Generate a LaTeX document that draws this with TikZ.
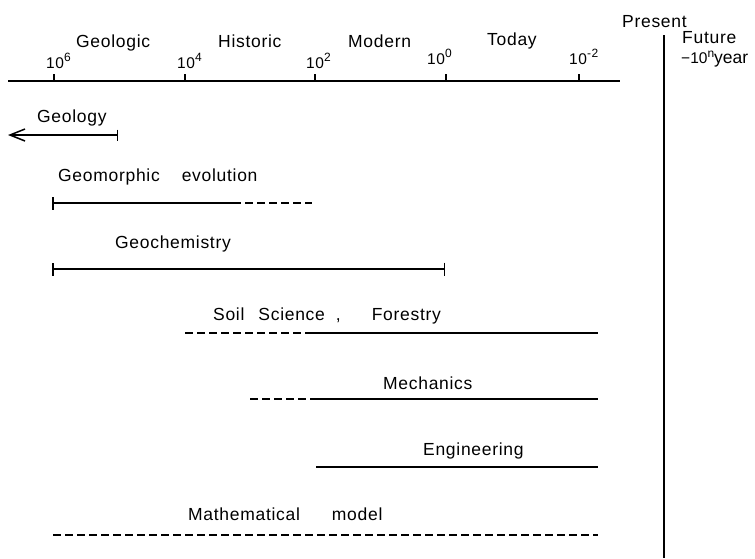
\documentclass[tikz,border=0pt]{standalone}
\usepackage{fontspec}
\setmainfont{Liberation Sans}[LetterSpace=4]
\usetikzlibrary{arrows.meta}
\newcommand{\myexp}[1]{\raisebox{7pt}{\fontsize{12}{12}\selectfont #1}}
\begin{document}
\begin{tikzpicture}[x=1pt,y=-1pt,
  lbl/.style={anchor=base west,inner sep=0pt,font=\fontsize{17.5}{20}\selectfont},
  tlbl/.style={anchor=base west,inner sep=0pt,font=\fontsize{15.5}{17}\selectfont},
  bar/.style={line width=1.5pt},
  dsh/.style={line width=1.5pt,dash pattern=on 8pt off 4pt},
  tick/.style={line width=1.5pt}
]
\useasboundingbox (0,0) rectangle (755,558);

% time axis
\coordinate (axL) at (8,81);
\coordinate (axR) at (620,81);
\draw[bar] (axL) -- (axR);
\foreach \x/\n in {54/a,185/b,315/c,446/d,579/e}{
  \coordinate (t\n) at (\x,81);
  \coordinate (u\n) at (\x,74);
  \draw[tick] (t\n) -- (u\n);
}
\node[tlbl] (l6) at (46,68) {10\myexp{6}};
\node[tlbl] (l4) at (177,68) {10\myexp{4}};
\node[tlbl] (l2) at (306,68) {10\myexp{2}};
\node[tlbl] (l0) at (427,64) {10\myexp{0}};
\node[tlbl] (lm2) at (569,64) {10\myexp{-2}};

\node[lbl] (geologic) at (76,47) {Geologic};
\node[lbl] (historic) at (218,47) {Historic};
\node[lbl] (modern) at (348,47) {Modern};
\node[lbl] (today) at (487,45) {Today};
\node[lbl] (present) at (622,27) {Present};
\node[lbl] (future) at (682,43) {Future};
\node[lbl] (nyear) at (681,63) {\addfontfeature{LetterSpace=0}{\fontsize{15.5}{17}\selectfont −10}\raisebox{5.5pt}{\fontsize{12}{12}\selectfont n}year};

% present line
\coordinate (pT) at (664,35);
\coordinate (pB) at (664,558);
\draw[line width=1.6pt] (pT) -- (pB);

% Geology
\node[lbl] (geology) at (37,122) {Geology};
\coordinate (gyR) at (118,135);
\coordinate (gyL) at (8,135);
\draw[bar,{Bar[width=11pt]}-{Straight Barb[length=15pt,width=12pt]}] (gyR) -- (gyL);

% Geomorphic evolution
\node[lbl] (geomorph) at (58,181) {Geomorphic\hspace{22pt}evolution};
\coordinate (gmA) at (52,203);
\coordinate (gmB) at (233,203);
\coordinate (gmC) at (312,203);
\draw[bar,{Bar[width=13pt]}-] (gmA) -- (gmB);
\draw[dsh] (gmB) -- (gmC);

% Geochemistry
\node[lbl] (geochem) at (115,248) {Geochemistry};
\coordinate (gcA) at (52,269);
\coordinate (gcB) at (445,269);
\draw[bar,{Bar[width=13pt]}-{Bar[width=13pt]}] (gcA) -- (gcB);

% Soil Science, Forestry
\node[lbl] (soil) at (213,320) {Soil\hspace{14pt}Science\hspace{11pt},\hspace{31pt}Forestry};
\coordinate (ssA) at (185,333);
\coordinate (ssB) at (313,333);
\coordinate (ssC) at (598,333);
\draw[dsh] (ssA) -- (ssB);
\draw[bar] (ssB) -- (ssC);

% Mechanics
\node[lbl] (mech) at (383,389) {Mechanics};
\coordinate (meA) at (250,399);
\coordinate (meB) at (313,399);
\coordinate (meC) at (598,399);
\draw[dsh] (meA) -- (meB);
\draw[bar] (meB) -- (meC);

% Engineering
\node[lbl] (eng) at (423,455) {Engineering};
\coordinate (enA) at (316,467);
\coordinate (enB) at (598,467);
\draw[bar] (enA) -- (enB);

% Mathematical model
\node[lbl] (math) at (188,520) {Mathematical\hspace{32pt}model};
\coordinate (mmA) at (53,535);
\coordinate (mmB) at (598,535);
\draw[dsh] (mmA) -- (mmB);
\end{tikzpicture}
\end{document}
